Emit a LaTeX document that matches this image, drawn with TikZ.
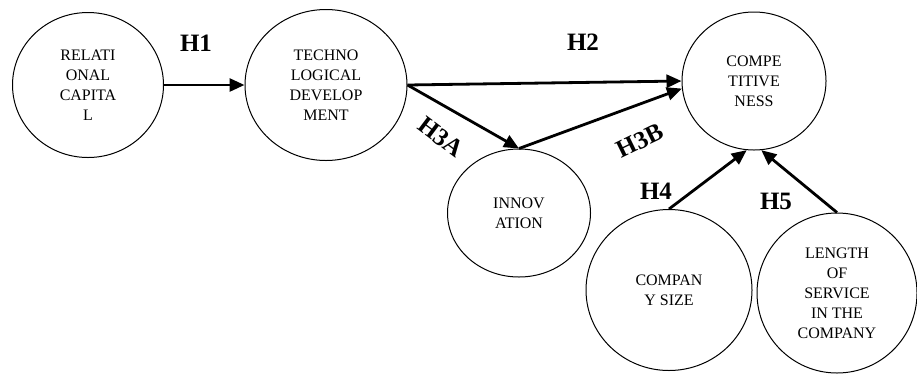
\documentclass[tikz,border=0pt]{standalone}
\usepackage{fontspec}
\setmainfont{Liberation Serif}
\usepackage{tikz}
\usetikzlibrary{arrows.meta,shapes.geometric}

\begin{document}
\begin{tikzpicture}[x=1pt,y=-1pt,font=\fontsize{16}{20}\selectfont,
    var/.style={ellipse,draw,line width=1pt,inner sep=0pt,align=center},
    hyp/.style={-{Triangle[length=15pt,width=13pt]},line width=2.8pt},
    hlab/.style={font=\fontsize{25}{25}\selectfont\bfseries}]
  \useasboundingbox (0,0) rectangle (917,373);
  \node[var,minimum width=151pt,minimum height=145pt] (rc) at (88,85) {RELATI\\ONAL\\CAPITA\\L};
  \node[var,minimum width=162pt,minimum height=151pt] (td) at (326,85) {TECHNO\\LOGICAL\\DEVELOP\\MENT};
  \node[var,minimum width=144pt,minimum height=138pt] (comp) at (754,81) {COMPE\\TITIVE\\NESS};
  \node[var,minimum width=143pt,minimum height=128pt] (inno) at (519,213) {INNOV\\ATION};
  \node[var,minimum width=166pt,minimum height=161pt] (size) at (669,290) {COMPAN\\Y SIZE};
  \node[var,minimum width=160pt,minimum height=160pt] (serv) at (837,293) {LENGTH\\OF\\SERVICE\\IN THE\\COMPANY};
  \draw[hyp] (rc) -- (td);
  \draw[hyp] (td.east) -- (comp.west);
  \draw[hyp] (td.east) -- (inno.north);
  \draw[hyp] (inno.north) -- (comp.186);
  \draw[hyp] (size.north) -- (comp.264);
  \draw[hyp] (serv.north) -- (comp.276);
  \node[hlab] (h1) at (196,43) {H1};
  \node[hlab] (h2) at (583,42) {H2};
  \node[hlab,rotate=-37] (h3a) at (441,137) {H3A};
  \node[hlab,rotate=26] (h3b) at (640,141) {H3B};
  \node[hlab] (h4) at (656,191) {H4};
  \node[hlab] (h5) at (776,201) {H5};
\end{tikzpicture}
\end{document}
